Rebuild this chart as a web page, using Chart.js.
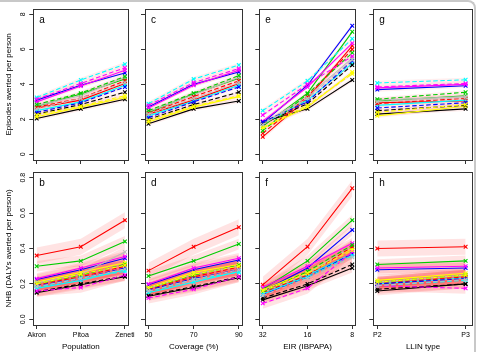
<!DOCTYPE html>
<html><head><meta charset="utf-8">
<script src="https://cdn.jsdelivr.net/npm/chart.js@4.4.1/dist/chart.umd.min.js"></script>
<style>
html,body{margin:0;padding:0;background:#fff;}
#wrap{position:relative;width:478px;height:352px;overflow:hidden;background:#fff;}
#wrap canvas{position:absolute;left:0;top:0;}
#frame{position:absolute;left:-10px;top:0;width:486px;height:360px;border-top:2px solid #c8c8c8;border-right:2px solid #c8c8c8;border-top-right-radius:8px;box-sizing:border-box;}
</style></head>
<body><div id="wrap"><div id="frame"></div></div>
<script>
// ---- categories / tick labels ----
const populationLabels = ['Akron','Pitoa','Zeneti'];
const coverageLabels = ['50','70','90'];
const eirLabels = ['32','16','8'];
const llinLabels = ['P2','P3'];
const episodeTicks = [0,2,4,6,8];
const nhbTicks = [0,0.2,0.4,0.6,0.8];

// ---- series: black, red, green, blue, cyan, magenta, yellow, gray (solid), then same dashed ----
const seriesColors = ['#000000','#FF0000','#00CD00','#0000FF','#00FFFF','#FF00FF','#FFFF00','#BEBEBE',
                      '#000000','#FF0000','#00CD00','#0000FF','#00FFFF','#FF00FF','#FFFF00','#BEBEBE'];
const seriesDashed = [0,0,0,0,0,0,0,0,1,1,1,1,1,1,1,1];

// ---- Episodes averted per person ----
const episodesPopulation = [
 [2.05,2.6,3.15],[2.65,3.1,4.05],[2.75,3.45,4.3],[3.1,3.95,4.65],[2.5,3.0,3.95],[3.0,3.9,4.8],[2.15,2.7,3.25],[2.8,3.35,4.4],
 [2.3,2.85,3.55],[2.7,3.2,4.2],[2.85,3.5,4.45],[2.4,2.95,3.85],[3.25,4.25,5.15],[3.15,4.05,4.95],[2.25,2.75,3.35],[2.6,3.2,4.1]];
const episodesCoverage = [
 [1.75,2.6,3.05],[2.3,3.1,4.05],[2.4,3.45,4.35],[2.7,4.0,4.7],[2.2,3.05,3.95],[2.65,3.95,4.8],[1.85,2.7,3.3],[2.45,3.4,4.4],
 [2.0,2.85,3.55],[2.35,3.3,4.2],[2.5,3.5,4.5],[2.1,3.0,3.85],[2.9,4.3,5.1],[2.8,4.1,4.9],[1.95,2.75,3.35],[2.3,3.2,4.1]];
const episodesEIR = [
 [1.85,2.6,4.25],[1.0,3.2,6.2],[1.6,3.5,7.0],[1.8,3.95,7.35],[1.75,3.1,5.2],[1.9,3.85,6.35],[1.5,2.7,4.7],[1.75,3.3,5.5],
 [1.75,2.9,5.1],[1.2,3.3,6.0],[1.35,3.45,5.8],[1.85,3.0,5.35],[2.5,4.2,6.6],[2.25,4.0,5.6],[1.55,2.8,4.6],[1.7,3.2,5.4]];
const episodesLLIN = [
 [2.3,2.6],[2.95,3.05],[3.05,3.35],[3.7,3.92],[2.8,3.1],[3.8,4.0],[2.2,2.75],[3.1,3.3],
 [2.5,2.8],[2.9,3.2],[3.15,3.55],[2.65,2.95],[4.08,4.26],[3.85,4.05],[2.4,2.85],[3.0,3.25]];

// ---- NHB (DALYs averted per person) ----
const nhbPopulation = [
 [0.15,0.195,0.24],[0.36,0.41,0.56],[0.30,0.33,0.44],[0.225,0.28,0.345],[0.175,0.22,0.28],[0.23,0.29,0.355],[0.21,0.265,0.32],[0.205,0.255,0.38],
 [0.155,0.2,0.245],[0.195,0.24,0.3],[0.2,0.25,0.31],[0.19,0.23,0.29],[0.18,0.235,0.27],[0.16,0.18,0.25],[0.2,0.255,0.305],[0.185,0.23,0.285]];
const nhbCoverage = [
 [0.13,0.18,0.235],[0.275,0.41,0.52],[0.245,0.33,0.425],[0.195,0.28,0.335],[0.15,0.21,0.27],[0.2,0.29,0.345],[0.18,0.265,0.31],[0.175,0.255,0.3],
 [0.135,0.185,0.24],[0.17,0.24,0.295],[0.175,0.25,0.305],[0.165,0.23,0.28],[0.155,0.225,0.265],[0.12,0.17,0.24],[0.175,0.255,0.3],[0.16,0.225,0.28]];
const nhbEIR = [
 [0.11,0.19,0.29],[0.195,0.41,0.74],[0.17,0.33,0.56],[0.16,0.29,0.505],[0.14,0.25,0.37],[0.18,0.3,0.43],[0.165,0.27,0.40],[0.15,0.26,0.41],
 [0.12,0.2,0.31],[0.15,0.25,0.41],[0.155,0.27,0.42],[0.14,0.24,0.37],[0.145,0.24,0.36],[0.09,0.175,0.38],[0.16,0.26,0.39],[0.135,0.23,0.35]];
const nhbLLIN = [
 [0.16,0.2],[0.4,0.41],[0.31,0.33],[0.28,0.29],[0.2,0.235],[0.29,0.3],[0.22,0.26],[0.21,0.25],
 [0.17,0.2],[0.2,0.24],[0.21,0.25],[0.2,0.23],[0.19,0.22],[0.19,0.175],[0.21,0.25],[0.19,0.225]];

// ---- uncertainty band half-widths per series ----
const episodesBand = [0.12,0.15,0.12,0.12,0.1,0.12,0.12,0.12,0.1,0.12,0.12,0.1,0.12,0.12,0.1,0.1];
const nhbBand = [0.025,0.045,0.03,0.03,0.02,0.03,0.03,0.03,0.025,0.035,0.03,0.03,0.02,0.03,0.03,0.03];

const W = 478, H = 352;
const FONT = "'Liberation Sans', Arial, sans-serif";
const panels = [
 {letter:'a', box:[33.3,7,128.3,160], xr:[0.923,3.077], cats:populationLabels, data:episodesPopulation, band:episodesBand, yt:episodeTicks, yr:[-0.32,8.32], yTitle:'Episodes averted per person', showY:true, showX:false},
 {letter:'c', box:[145,7,242.3,160], xr:[0.923,3.077], cats:coverageLabels, data:episodesCoverage, band:episodesBand, yt:episodeTicks, yr:[-0.32,8.32], showY:false, showX:false},
 {letter:'e', box:[259.3,7,355.7,160], xr:[0.923,3.077], cats:eirLabels, data:episodesEIR, band:episodesBand, yt:episodeTicks, yr:[-0.32,8.32], showY:false, showX:false},
 {letter:'g', box:[373.3,7,472.7,160], xr:[0.955,2.08], cats:llinLabels, data:episodesLLIN, band:episodesBand, yt:episodeTicks, yr:[-0.32,8.32], showY:false, showX:false},
 {letter:'b', box:[33.3,172,128.3,325], xr:[0.923,3.077], cats:populationLabels, data:nhbPopulation, band:nhbBand, yt:nhbTicks, yr:[-0.032,0.832], yTitle:'NHB (DALYs averted per person)', showY:true, showX:true, xTitle:'Population'},
 {letter:'d', box:[145,172,242.3,325], xr:[0.923,3.077], cats:coverageLabels, data:nhbCoverage, band:nhbBand, yt:nhbTicks, yr:[-0.032,0.832], showY:false, showX:true, xTitle:'Coverage (%)'},
 {letter:'f', box:[259.3,172,355.7,325], xr:[0.923,3.077], cats:eirLabels, data:nhbEIR, band:nhbBand, yt:nhbTicks, yr:[-0.032,0.832], showY:false, showX:true, xTitle:'EIR (IBPAPA)'},
 {letter:'h', box:[373.3,172,472.7,325], xr:[0.955,2.08], cats:llinLabels, data:nhbLLIN, band:nhbBand, yt:nhbTicks, yr:[-0.032,0.832], showY:false, showX:true, xTitle:'LLIN type'}
];

const boxPlugin = {
  id:'boxPlugin',
  afterDatasetsDraw(chart, args, opts){
    const a = chart.chartArea, ctx = chart.ctx;
    ctx.save();
    ctx.strokeStyle = '#333'; ctx.lineWidth = 1;
    ctx.strokeRect(Math.round(a.left)+0.5, Math.round(a.top)+0.5, Math.round(a.right-a.left), Math.round(a.bottom-a.top));
    ctx.fillStyle = '#000'; ctx.font = '10px ' + FONT; ctx.textBaseline = 'alphabetic';
    ctx.fillText(opts.letter, a.left + 6, a.top + 14);
    ctx.restore();
  }
};

const AXW = 30, AXH = 27;
const wrap = document.getElementById('wrap');
panels.forEach((p, pi) => {
  const cv = document.createElement('canvas');
  cv.width = W; cv.height = H; cv.style.width = W+'px'; cv.style.height = H+'px';
  wrap.appendChild(cv);
  const xs = p.cats.map((c,i)=>i+1);
  const lines = [], bands = [];
  const bandFill = p.yt===nhbTicks ? 'rgba(255,40,40,0.13)' : 'rgba(255,40,40,0.08)';
  for (let s = p.data.length-1; s >= 0; s--) {
    const col = seriesColors[s];
    lines.push({
      data: p.data[s].map((v,i)=>({x:xs[i], y:v})),
      borderColor: col, backgroundColor: col,
      borderWidth: 1.1, borderDash: seriesDashed[s] ? [4.5,2.5] : [],
      pointStyle:'crossRot', pointRadius:2.6, pointBorderWidth:1.1, pointBorderColor: col,
      tension:0, fill:false
    });
  }
  for (let s = 0; s < p.data.length; s++) {
    const hw = p.band[s];
    bands.push({
      data: p.data[s].map((v,i)=>({x:xs[i], y:v+hw})),
      borderWidth:0, pointRadius:0, fill:'+1', backgroundColor:bandFill, borderColor:'rgba(0,0,0,0)'
    });
    bands.push({
      data: p.data[s].map((v,i)=>({x:xs[i], y:v-hw})),
      borderWidth:0, pointRadius:0, fill:false, borderColor:'rgba(0,0,0,0)'
    });
  }
  const b = p.box;
  new Chart(cv, {
    type:'line',
    data:{datasets: lines.concat(bands)},
    plugins:[boxPlugin],
    options:{
      responsive:false, animation:false, devicePixelRatio:1, events:[],
      layout:{padding:{left:b[0]-AXW, top:b[1], right:W-b[2], bottom:H-b[3]-AXH}},
      plugins:{legend:{display:false}, tooltip:{enabled:false}, boxPlugin:{letter:p.letter}},
      scales:{
        x:{type:'linear', min:p.xr[0], max:p.xr[1],
           afterBuildTicks:(sc)=>{sc.ticks = xs.map(v=>({value:v}));},
           afterFit:(sc)=>{sc.height = AXH;},
           ticks:{autoSkip:false, maxRotation:0, minRotation:0, padding:2, color:'#000',
                  font:{size:7, family:FONT},
                  callback:(v)=> p.showX ? p.cats[Math.round(v)-1] : ''},
           grid:{drawOnChartArea:false, drawTicks:true, tickLength:4, tickColor:'#333', tickWidth:1},
           border:{display:false},
           title:{display:!!p.xTitle, text:p.xTitle||'', color:'#000', font:{size:8, family:FONT}, padding:{top:0,bottom:0}}
        },
        y:{type:'linear', min:p.yr[0], max:p.yr[1],
           afterBuildTicks:(sc)=>{sc.ticks = p.yt.map(v=>({value:v}));},
           afterFit:(sc)=>{sc.width = AXW;},
           ticks:{autoSkip:false, minRotation:90, maxRotation:90, crossAlign:'center', padding: (p.yt===nhbTicks?1.5:4.5), color:'#000',
                  font:{size:7, family:FONT},
                  callback:(v)=> p.showY ? (p.yt===nhbTicks ? Number(v).toFixed(1) : String(v)) : ''},
           grid:{drawOnChartArea:false, drawTicks:true, tickLength:4, tickColor:'#333', tickWidth:1},
           border:{display:false},
           title:{display:!!p.yTitle, text:p.yTitle||'', color:'#000', font:{size:8, family:FONT}, padding:{top:1,bottom:0}}
        }
      }
    }
  });
});
</script>
</body></html>
